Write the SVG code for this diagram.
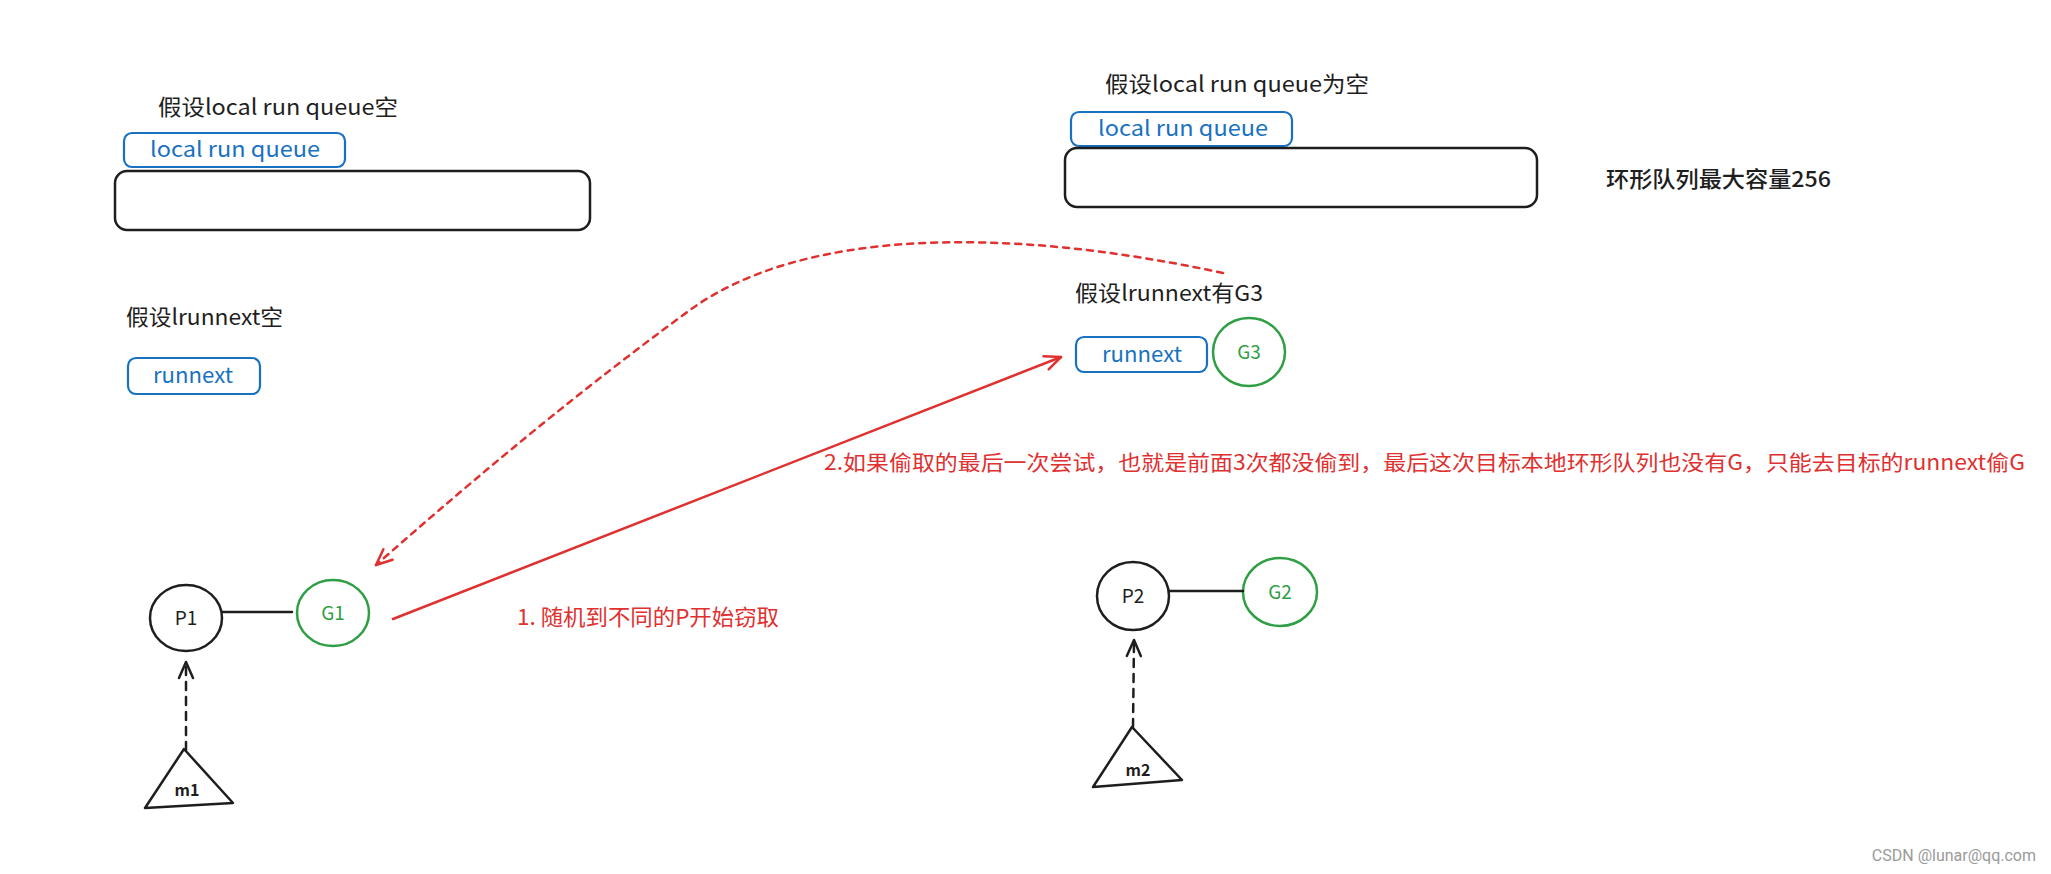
<svg xmlns="http://www.w3.org/2000/svg" width="2051" height="874" viewBox="0 0 2051 874">
<defs>
<style>
.t{font-family:"Noto Sans CJK SC","Liberation Sans",sans-serif;fill:#1e1e1e}
.blk{fill:none;stroke:#1e1e1e;stroke-width:2.5;stroke-linecap:round;stroke-linejoin:round}
.blu{fill:none;stroke:#1971c2;stroke-width:2.2}
.grn{fill:none;stroke:#2f9e44;stroke-width:2.5}
.bt{font-family:"Noto Sans CJK SC","Liberation Sans",sans-serif;fill:#1971c2;font-size:21px}
.gt{font-family:"Noto Sans CJK SC","Liberation Sans",sans-serif;fill:#2f9e44;font-size:19px}
.rt{font-family:"Noto Sans CJK SC","Liberation Sans",sans-serif;fill:#e03131}
.red{fill:none;stroke:#e03131;stroke-width:2.5;stroke-linecap:round}
</style>
<marker id="ah-red" viewBox="0 0 20 20" refX="18" refY="10" markerWidth="20" markerHeight="20" markerUnits="userSpaceOnUse" orient="auto">
<path d="M2,3 L18,10 L2,17" fill="none" stroke="#e03131" stroke-width="2.5" stroke-linecap="round" stroke-linejoin="round"/>
</marker>
<marker id="ah-blk" viewBox="0 0 20 20" refX="18" refY="10" markerWidth="20" markerHeight="20" markerUnits="userSpaceOnUse" orient="auto">
<path d="M2,3 L18,10 L2,17" fill="none" stroke="#1e1e1e" stroke-width="2.5" stroke-linecap="round" stroke-linejoin="round"/>
</marker>
</defs>
<rect width="2051" height="874" fill="#ffffff"/>

<g id="left-lrq">
<text class="t" x="158" y="115" font-size="22" textLength="240" lengthAdjust="spacingAndGlyphs">假设local run queue空</text>
<rect class="blu" x="124" y="133" width="221" height="34" rx="8"/>
<text class="bt" x="150" y="157" textLength="170" lengthAdjust="spacingAndGlyphs">local run queue</text>
<rect class="blk" x="115" y="171" width="475" height="59" rx="12"/>
</g>

<g id="left-runnext">
<text class="t" x="126" y="325" font-size="22" textLength="157" lengthAdjust="spacingAndGlyphs">假设lrunnext空</text>
<rect class="blu" x="128" y="358" width="132" height="36" rx="8"/>
<text class="bt" x="153" y="383" textLength="80" lengthAdjust="spacingAndGlyphs">runnext</text>
</g>

<g id="right-lrq">
<text class="t" x="1105" y="92" font-size="22" textLength="264" lengthAdjust="spacingAndGlyphs">假设local run queue为空</text>
<rect class="blu" x="1071" y="112" width="221" height="34" rx="8"/>
<text class="bt" x="1098" y="136" textLength="170" lengthAdjust="spacingAndGlyphs">local run queue</text>
<rect class="blk" x="1065" y="148" width="472" height="59" rx="12"/>
<text class="t" x="1606" y="187" font-size="22" font-weight="500" textLength="225" lengthAdjust="spacingAndGlyphs">环形队列最大容量256</text>
</g>

<g id="right-runnext">
<text class="t" x="1075" y="301" font-size="22" textLength="188" lengthAdjust="spacingAndGlyphs">假设lrunnext有G3</text>
<rect class="blu" x="1076" y="337" width="131" height="35" rx="8"/>
<text class="bt" x="1102" y="362" textLength="80" lengthAdjust="spacingAndGlyphs">runnext</text>
</g>

<g id="G3">
<ellipse class="grn" cx="1249" cy="352" rx="36" ry="34"/>
<text class="gt" x="1249" y="359" text-anchor="middle">G3</text>
</g>

<g id="P1">
<ellipse class="blk" cx="186" cy="618" rx="36" ry="33"/>
<text class="t" x="186" y="625" font-size="19" text-anchor="middle">P1</text>
</g>
<g id="G1">
<ellipse class="grn" cx="333" cy="613" rx="36" ry="33"/>
<text class="gt" x="333" y="620" text-anchor="middle">G1</text>
</g>
<g id="m1">
<path class="blk" d="M184,749 L145,808 L233,803 Z"/>
<text class="t" x="187" y="796" font-size="16" font-weight="bold" text-anchor="middle">m1</text>
</g>

<g id="P2">
<ellipse class="blk" cx="1133" cy="596" rx="36" ry="34"/>
<text class="t" x="1133" y="603" font-size="19" text-anchor="middle">P2</text>
</g>
<g id="G2">
<ellipse class="grn" cx="1280" cy="592" rx="37" ry="34"/>
<text class="gt" x="1280" y="599" text-anchor="middle">G2</text>
</g>
<g id="m2">
<path class="blk" d="M1132,727 L1093,787 L1182,780 Z"/>
<text class="t" x="1138" y="776" font-size="16" font-weight="bold" text-anchor="middle">m2</text>
</g>

<g id="labels">
<text class="rt" x="517" y="625" font-size="22" textLength="262" lengthAdjust="spacingAndGlyphs">1.  随机到不同的P开始窃取</text>
<text class="rt" x="824" y="470" font-size="21" textLength="1201" lengthAdjust="spacingAndGlyphs">2.如果偷取的最后一次尝试，也就是前面3次都没偷到，最后这次目标本地环形队列也没有G，只能去目标的runnext偷G</text>
<text x="2036" y="861" text-anchor="end" font-family="Roboto,'Liberation Sans',sans-serif" font-size="16" fill="#9a9a9a">CSDN @lunar@qq.com</text>
</g>

<g id="connectors">
<line class="blk" x1="222" y1="612" x2="292" y2="612"/>
<line class="blk" x1="1170" y1="591" x2="1243" y2="591"/>
<line class="blk" x1="186" y1="750" x2="186" y2="662" stroke-dasharray="8 7" marker-end="url(#ah-blk)"/>
<line class="blk" x1="1133" y1="727" x2="1134" y2="640" stroke-dasharray="8 7" marker-end="url(#ah-blk)"/>
<line class="red" x1="393" y1="619" x2="1061" y2="357" marker-end="url(#ah-red)"/>
<path class="red" d="M1223,273 C1000,225 800,230 690,310 C560,405 450,500 376,565" stroke-dasharray="6 6" marker-end="url(#ah-red)"/>
</g>
</svg>
